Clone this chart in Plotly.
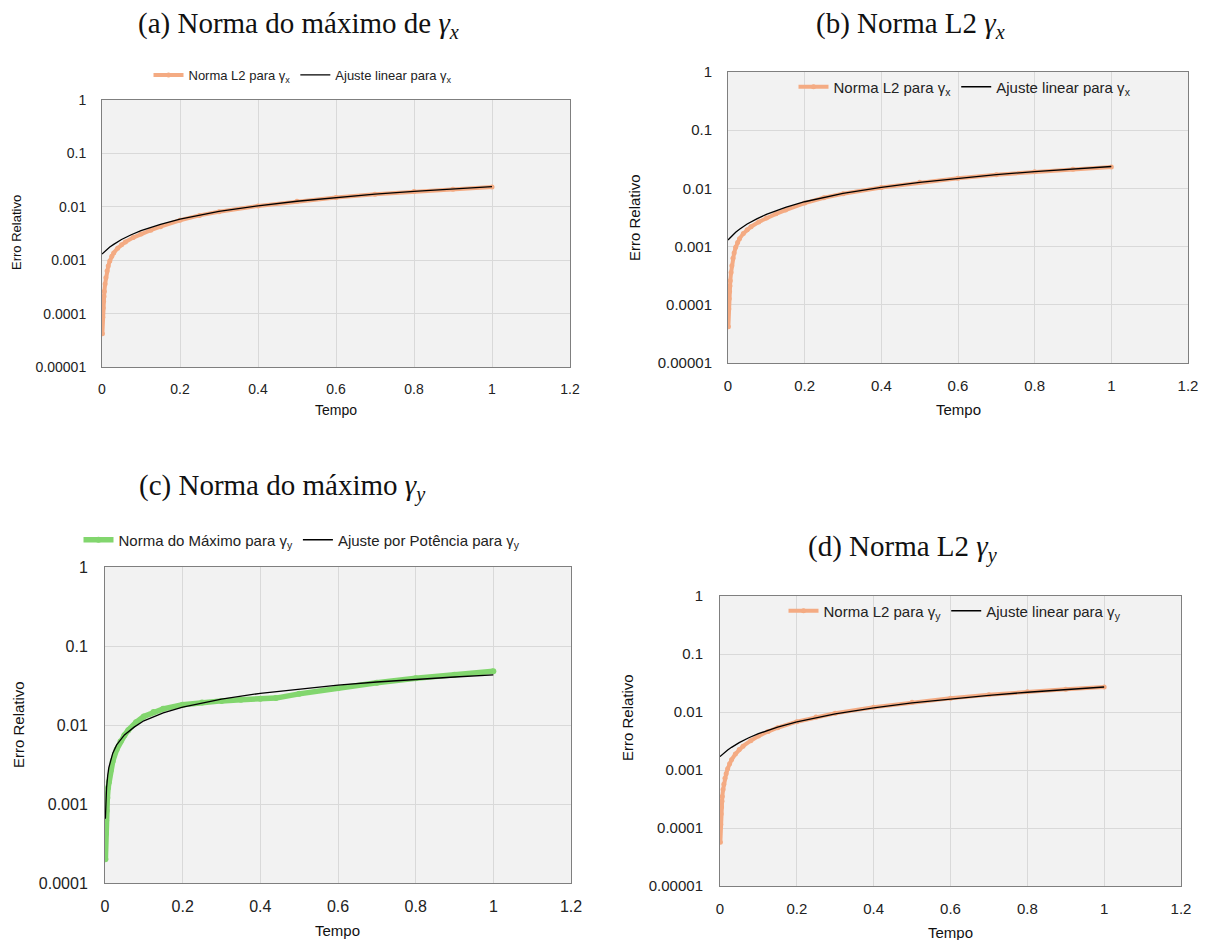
import plotly.graph_objects as go

# ---- gamma_x: relative error (L2 norm) over time, used in panels (a) and (b)
t_gx = [0.001, 0.002, 0.003, 0.004, 0.005, 0.006, 0.008, 0.010, 0.013, 0.016,
        0.020, 0.025, 0.030, 0.040, 0.050, 0.060, 0.080, 0.100, 0.125, 0.150,
        0.200, 0.250, 0.300, 0.400, 0.500, 0.600, 0.700, 0.800, 0.900, 1.000]
err_gx = [4.2e-5, 8.5e-5, 1.27e-4, 1.7e-4, 2.1e-4, 2.6e-4, 3.6e-4, 4.7e-4, 6.3e-4, 7.8e-4,
          9.7e-4, 1.18e-3, 1.37e-3, 1.68e-3, 1.95e-3, 2.2e-3, 2.65e-3, 3.1e-3, 3.65e-3, 4.25e-3,
          5.6e-3, 6.9e-3, 8.1e-3, 0.0104, 0.0127, 0.0150, 0.0172, 0.0193, 0.0213, 0.0234]

# linear trend line for gamma_x
t_fit_gx = [0.0, 0.01, 0.02, 0.03, 0.05, 0.075, 0.1, 0.15, 0.2, 0.3, 0.4, 0.5,
            0.6, 0.7, 0.8, 0.9, 1.0]
fit_gx = [0.0013, 0.00153, 0.00176, 0.00198, 0.00244, 0.0030, 0.00358, 0.0047, 0.0059,
          0.0082, 0.0104, 0.0127, 0.0150, 0.0172, 0.0194, 0.0216, 0.0238]

# ---- gamma_y: maximum norm with power-law fit, panel (c)
t_gy_max = [0.001, 0.002, 0.003, 0.004, 0.006, 0.008, 0.010, 0.015, 0.020, 0.030,
            0.040, 0.050, 0.060, 0.080, 0.100, 0.125, 0.150, 0.200, 0.250, 0.300,
            0.350, 0.400, 0.440, 0.500, 0.600, 0.700, 0.800, 0.900, 1.000]
err_gy_max = [2.0e-4, 4.2e-4, 6.2e-4, 8.2e-4, 1.2e-3, 1.6e-3, 1.9e-3, 2.7e-3, 3.5e-3, 4.9e-3,
              6.2e-3, 7.4e-3, 8.6e-3, 0.0108, 0.0128, 0.0146, 0.0160, 0.0180, 0.0193, 0.0202,
              0.0209, 0.0215, 0.0219, 0.0248, 0.0295, 0.0343, 0.0390, 0.0433, 0.0478]

t_fit_gy_max = [0.001, 0.002, 0.004, 0.007, 0.01, 0.02, 0.03, 0.05, 0.075, 0.1, 0.15,
                0.2, 0.3, 0.4, 0.5, 0.6, 0.7, 0.8, 0.9, 1.0]
fit_gy_max = [0.00065, 0.0010, 0.0016, 0.0023, 0.0029, 0.0044, 0.0056, 0.0075, 0.0094,
              0.0113, 0.0142, 0.0168, 0.0213, 0.0252, 0.0287, 0.0320, 0.0350, 0.0378,
              0.0405, 0.0430]

# ---- gamma_y: L2 norm with linear trend, panel (d)
t_gy = [0.001, 0.002, 0.003, 0.004, 0.005, 0.006, 0.008, 0.010, 0.013, 0.016,
        0.020, 0.025, 0.030, 0.040, 0.050, 0.060, 0.080, 0.100, 0.125, 0.150,
        0.200, 0.250, 0.300, 0.400, 0.500, 0.600, 0.700, 0.800, 0.900, 1.000]
err_gy = [5.7e-5, 1.15e-4, 1.75e-4, 2.3e-4, 2.9e-4, 3.5e-4, 4.6e-4, 5.7e-4, 7.2e-4, 8.6e-4,
          1.05e-3, 1.28e-3, 1.5e-3, 1.88e-3, 2.25e-3, 2.58e-3, 3.2e-3, 3.85e-3, 4.6e-3, 5.35e-3,
          6.8e-3, 8.2e-3, 9.5e-3, 0.0121, 0.0147, 0.0173, 0.0198, 0.0223, 0.0247, 0.0270]

t_fit_gy = [0.0, 0.01, 0.02, 0.03, 0.05, 0.075, 0.1, 0.15, 0.2, 0.3, 0.4, 0.5,
            0.6, 0.7, 0.8, 0.9, 1.0]
fit_gy = [0.0017, 0.00195, 0.00221, 0.00246, 0.00297, 0.0036, 0.00423, 0.0055, 0.00676,
          0.0093, 0.0118, 0.0144, 0.0169, 0.0194, 0.0219, 0.0245, 0.0270]

# axis ticks
x_ticks = [0, 0.2, 0.4, 0.6, 0.8, 1.0, 1.2]
x_tick_text = ["0", "0.2", "0.4", "0.6", "0.8", "1", "1.2"]
y_ticks = [1e-5, 1e-4, 1e-3, 1e-2, 1e-1, 1]
y_tick_text = ["0.00001", "0.0001", "0.001", "0.01", "0.1", "1"]

ORANGE = "#f4ab83"
GREEN = "#82d66e"
SANS = "Liberation Sans"
SERIF = "Liberation Serif"
W, H = 1209, 940


def px(x):
    return x / W


def py(y):
    return 1 - y / H


fig = go.Figure()

# panel boxes in pixels: (left, right, top, bottom)
panels = {
    "a": (102, 570, 100, 367),
    "b": (728, 1188, 72, 363),
    "c": (105, 571, 567, 883),
    "d": (720, 1181, 596, 886),
}
axis_ids = {"a": ("x", "y"), "b": ("x2", "y2"), "c": ("x3", "y3"), "d": ("x4", "y4")}
tick_sizes = {"a": 14, "b": 15, "c": 16, "d": 15}
y_ranges = {"a": [-5, 0], "b": [-5, 0], "c": [-4, 0], "d": [-5, 0]}
y_pad = {"a": 12, "b": 12, "c": 13, "d": 13}

for key, (l, r, t, b) in panels.items():
    xa, ya = axis_ids[key]
    xname = "xaxis" if xa == "x" else "xaxis" + xa[1:]
    yname = "yaxis" if ya == "y" else "yaxis" + ya[1:]
    fs = tick_sizes[key]
    fig.update_layout({
        xname: dict(domain=[px(l), px(r)], anchor=ya, range=[0, 1.2],
                    tickvals=x_ticks, ticktext=x_tick_text,
                    showgrid=True, gridcolor="#d9d9d9", gridwidth=1,
                    showline=True, linecolor="#7f7f7f", linewidth=1, mirror=True,
                    ticks="outside", ticklen=9, tickcolor="rgba(0,0,0,0)",
                    tickfont=dict(family=SANS, size=fs, color="#222"),
                    zeroline=False, fixedrange=True, automargin=False),
        yname: dict(domain=[py(b), py(t)], anchor=xa, type="log", range=y_ranges[key],
                    tickvals=y_ticks, ticktext=y_tick_text,
                    showgrid=True, gridcolor="#d9d9d9", gridwidth=1,
                    showline=True, linecolor="#7f7f7f", linewidth=1, mirror=True,
                    ticks="outside", ticklen=y_pad[key], tickcolor="rgba(0,0,0,0)",
                    tickfont=dict(family=SANS, size=fs, color="#222"),
                    zeroline=False, fixedrange=True, automargin=False),
    })

gx = "γ<sub>x</sub>"
gy = "γ<sub>y</sub>"

# (a)
fig.add_trace(go.Scatter(x=t_gx, y=err_gx, mode="lines+markers", name="Norma L2 para " + gx,
                         line=dict(color=ORANGE, width=4), marker=dict(color=ORANGE, size=5),
                         xaxis="x", yaxis="y", legend="legend"))
fig.add_trace(go.Scatter(x=t_fit_gx, y=fit_gx, mode="lines", name="Ajuste linear para " + gx,
                         line=dict(color="black", width=1.3),
                         xaxis="x", yaxis="y", legend="legend"))
# (b)
fig.add_trace(go.Scatter(x=t_gx, y=err_gx, mode="lines+markers", name="Norma L2 para " + gx,
                         line=dict(color=ORANGE, width=4), marker=dict(color=ORANGE, size=5),
                         xaxis="x2", yaxis="y2", legend="legend2"))
fig.add_trace(go.Scatter(x=t_fit_gx, y=fit_gx, mode="lines", name="Ajuste linear para " + gx,
                         line=dict(color="black", width=1.3),
                         xaxis="x2", yaxis="y2", legend="legend2"))
# (c)
fig.add_trace(go.Scatter(x=t_gy_max, y=err_gy_max, mode="lines+markers",
                         name="Norma do Máximo para " + gy,
                         line=dict(color=GREEN, width=5.5), marker=dict(color=GREEN, size=6),
                         xaxis="x3", yaxis="y3", legend="legend3"))
fig.add_trace(go.Scatter(x=t_fit_gy_max, y=fit_gy_max, mode="lines",
                         name="Ajuste por Potência para " + gy,
                         line=dict(color="black", width=1.3),
                         xaxis="x3", yaxis="y3", legend="legend3"))
# (d)
fig.add_trace(go.Scatter(x=t_gy, y=err_gy, mode="lines+markers", name="Norma L2 para " + gy,
                         line=dict(color=ORANGE, width=4), marker=dict(color=ORANGE, size=5),
                         xaxis="x4", yaxis="y4", legend="legend4"))
fig.add_trace(go.Scatter(x=t_fit_gy, y=fit_gy, mode="lines", name="Ajuste linear para " + gy,
                         line=dict(color="black", width=1.3),
                         xaxis="x4", yaxis="y4", legend="legend4"))


def legend_cfg(xc, yc, size):
    return dict(orientation="h", x=px(xc), y=py(yc), xanchor="center", yanchor="middle",
                bgcolor="rgba(0,0,0,0)", font=dict(family=SANS, size=size, color="#222"),
                itemwidth=30, tracegroupgap=0)


annotations = []


def text(x, y, s, size, family=SANS, angle=0):
    annotations.append(dict(x=px(x), y=py(y), xref="paper", yref="paper", text=s,
                            showarrow=False, textangle=angle, xanchor="center",
                            yanchor="middle", font=dict(family=family, size=size, color="#111")))


# panel titles
text(298, 25, "(a) Norma do máximo de <i>γ<sub>x</sub></i>", 29, SERIF)
text(910, 25, "(b) Norma L2 <i>γ<sub>x</sub></i>", 29, SERIF)
text(282, 487, "(c) Norma do máximo <i>γ<sub>y</sub></i>", 29, SERIF)
text(903, 548, "(d) Norma L2 <i>γ<sub>y</sub></i>", 29, SERIF)

# axis titles
text(17, 233, "Erro Relativo", 13, angle=-90)
text(336, 410, "Tempo", 14)
text(635, 218, "Erro Relativo", 15, angle=-90)
text(958, 409, "Tempo", 15)
text(18, 725, "Erro Relativo", 15, angle=-90)
text(338, 930, "Tempo", 15)
text(627, 718, "Erro Relativo", 15, angle=-90)
text(950, 932, "Tempo", 15)

fig.update_layout(
    width=W, height=H,
    margin=dict(l=0, r=0, t=0, b=0, autoexpand=False),
    paper_bgcolor="white",
    plot_bgcolor="#f2f2f2",
    legend=legend_cfg(303, 75, 13),
    legend2=legend_cfg(965, 87, 15),
    legend3=legend_cfg(302, 540, 15),
    legend4=legend_cfg(955, 611, 15),
    annotations=annotations,
    showlegend=True,
)

fig.write_html("out.html")
